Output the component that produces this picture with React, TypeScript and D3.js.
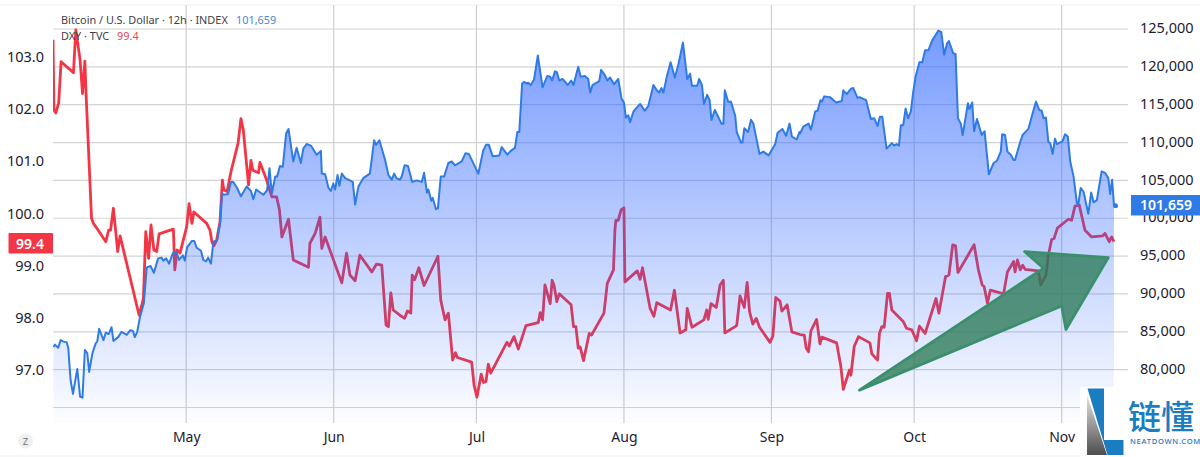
import React, { useEffect, useRef } from 'react';
import * as d3 from 'd3';

// days since 3 Apr, then the value at that moment
const btcDays = [0.1,0.4,1.1,1.6,2.2,2.9,3.2,3.7,4.2,5.1,5.7,6.2,6.7,7.2,7.6,8.3,9.0,9.3,9.7,10.6,11.1,11.7,12.3,12.7,13.7,14.4,15.5,16.2,16.8,17.2,17.7,18.3,19.1,19.7,20.5,21.2,22.1,22.8,23.2,23.8,24.4,25.2,26.0,26.5,27.3,27.7,28.2,29.2,29.7,30.2,31.1,31.6,32.2,32.6,33.2,33.7,34.5,35.1,35.5,35.9,36.8,37.4,37.9,38.7,39.5,40.7,41.6,42.1,42.7,44.2,45.0,45.5,46.0,46.7,47.1,47.7,48.3,49.0,49.5,50.5,51.2,52.1,52.6,53.3,54.2,55.4,56.3,56.5,57.2,57.9,58.4,58.9,59.3,59.8,60.2,60.7,61.4,63.0,63.5,64.2,65.2,66.6,67.5,67.9,68.6,69.8,70.5,71.2,71.7,72.2,72.9,73.3,73.9,74.6,75.5,76.4,77.5,78.0,78.6,78.9,79.5,79.8,80.5,80.9,81.5,82.2,83.1,83.8,84.5,85.9,86.7,87.4,89.4,90.4,91.0,91.6,92.4,93.8,94.3,95.5,96.2,97.1,97.6,98.0,98.6,99.0,99.6,99.9,100.4,101.1,101.9,102.9,103.9,104.5,104.9,105.5,105.9,106.4,107.1,108.2,108.9,109.4,110.4,110.9,111.8,112.5,112.9,113.4,114.8,115.2,116.0,116.5,117.1,117.9,118.8,119.5,120.0,120.4,120.9,121.3,122.0,123.4,124.4,125.1,126.2,126.9,127.4,127.9,128.3,129.0,129.8,130.7,131.4,132.4,133.3,133.9,134.3,135.4,135.8,136.4,136.8,137.5,138.0,138.4,139.1,140.5,140.9,141.2,141.9,142.5,143.4,143.7,144.6,144.9,145.3,146.1,146.7,147.2,148.5,149.3,150.4,151.8,152.3,153.3,154.1,154.8,155.3,156.3,156.9,157.0,157.7,158.8,159.3,160.2,160.7,161.3,161.6,162.1,163.3,164.6,165.8,166.1,166.8,167.7,168.2,169.1,169.5,170.9,171.9,172.6,173.3,173.8,174.3,175.2,176.3,176.8,177.3,177.8,178.2,178.7,179.2,179.7,180.3,180.8,181.3,182.1,182.7,183.3,184.0,184.8,186.1,186.7,187.3,187.9,188.3,189.2,189.7,190.2,190.8,191.2,192.3,192.6,193.2,193.6,194.2,195.2,195.8,196.7,197.7,198.4,199.2,199.5,200.1,200.6,201.3,201.9,202.2,203.3,203.8,205.0,205.7,206.6,207.3,207.8,208.2,208.7,209.2,209.6,210.1,210.6,211.0,212.2,212.7,213.3,213.8,214.5,215.2,215.5,216.0,216.6,217.6,218.2,218.7,219.4,220.4,221.1,221.8,222.2,222.6,223.0];
const btcPrices = [83000,83300,82900,83900,83700,83600,82900,78600,76800,80100,76400,76300,82600,82200,79700,82200,83500,83700,85400,83900,84900,84700,85600,83800,84300,85000,84600,85200,85100,84300,85000,87000,88800,93500,93700,92800,94700,94800,94400,94700,94000,95400,95400,94500,95100,94400,96200,97000,97000,96100,95700,94500,94300,94800,94000,96900,97100,99300,103300,103100,103200,104800,104800,104000,102900,104200,103600,102500,103800,103100,103700,106600,103300,105500,105500,106900,106800,111200,111800,107500,109300,107300,109200,109800,109600,108400,108900,105900,105800,104000,103600,104600,103800,105700,104300,105900,105300,104800,101800,104200,105300,105900,110300,109700,110300,107700,105700,105100,105900,105300,105100,105500,107000,106900,104800,105000,104800,106000,103400,103800,102300,102700,101200,101300,105500,105500,107300,107500,107000,107500,108600,108500,105900,108900,109700,109700,108200,108300,109400,108400,108900,109300,111400,111400,117800,118000,117800,117900,117600,118300,121500,117300,118800,118700,118200,119400,119300,118200,118400,117600,118200,117600,120000,118700,118800,118400,116600,117600,118100,119600,118900,118200,118600,117700,118400,115800,115300,113300,113600,112700,114100,115100,114200,114800,117600,116900,116600,117200,116600,118700,120600,118600,120200,123200,118400,119100,117500,117500,118400,117600,115100,116300,115600,113000,114300,112500,112500,116900,115400,115400,113500,111400,110000,110000,111900,111400,113000,112500,108500,108800,108300,109800,111300,111800,110900,112500,110800,110400,111400,111200,112100,112500,111700,114100,114200,115600,115400,116100,116000,115300,115500,116900,116400,117100,117200,115900,116000,115600,113100,113200,112200,113400,113400,109200,109900,109600,109800,109600,112300,112300,114500,113200,114100,116700,118700,120600,120600,122200,122200,123500,124800,124600,121600,123100,123400,121800,121700,113200,112500,111000,115200,114400,115300,111500,113100,111000,111500,105800,107300,107600,108800,111100,111000,108800,108400,107700,107700,110100,111000,111800,113400,115400,114300,114200,113200,113300,110100,109900,108500,110500,109800,110200,111100,110800,107500,105500,102000,101800,104000,103500,100600,103400,102100,102400,106200,106000,105300,103200,105100,101659];

const dxyDays = [0.0,0.2,0.6,1.2,1.7,4.3,4.8,5.7,6.2,6.7,6.9,8.1,8.5,9.5,11.1,11.7,12.1,12.7,13.6,14.1,18.1,19.0,19.5,20.1,20.6,21.2,21.8,22.3,25.3,25.6,26.1,26.7,28.1,28.6,29.2,29.6,32.3,33.0,33.4,33.8,34.4,35.1,35.6,35.9,36.6,37.4,38.9,39.5,40.0,41.1,41.6,42.0,43.2,43.5,44.9,46.0,47.0,47.6,48.1,49.5,50.5,53.7,54.0,55.1,56.1,56.5,57.2,60.7,61.7,62.4,63.5,64.5,67.0,68.0,69.1,70.0,70.5,71.0,71.5,72.9,73.9,74.5,75.2,75.5,76.0,76.9,78.0,80.9,81.5,82.4,83.1,84.0,84.6,85.0,88.0,88.5,89.1,90.0,90.5,91.0,91.5,92.0,95.4,95.9,96.9,97.8,99.4,102.0,102.4,102.9,103.4,104.5,104.9,105.3,105.9,106.4,108.9,109.4,109.9,110.4,110.8,111.5,112.2,112.7,113.2,115.8,116.5,117.8,118.1,118.3,118.8,119.4,120.0,120.2,122.8,123.4,123.9,125.5,126.3,126.9,129.8,130.6,131.8,133.0,133.3,134.3,136.8,137.4,137.7,138.3,139.4,140.2,140.9,141.2,143.7,144.4,145.3,145.9,146.4,147.1,147.8,148.5,150.7,151.3,151.9,152.8,153.2,154.3,155.3,157.0,157.9,158.3,158.8,159.3,160.5,161.2,161.6,164.7,165.6,166.1,167.4,167.7,168.4,169.3,171.7,172.1,173.3,173.7,174.2,174.7,175.4,175.8,176.3,178.7,179.4,180.5,181.5,182.1,183.3,185.6,186.2,187.6,188.3,189.1,189.7,190.2,193.6,194.5,195.3,195.7,196.4,197.0,199.8,200.6,201.9,202.2,202.7,203.3,203.8,204.3,207.1,207.6,208.7,209.2,209.9,210.4,211.1,213.4,214.1,214.8,215.7,216.9,218.3,220.6,221.1,222.0,222.5,223.0];
const dxyValues = [103.33,101.98,101.93,102.12,102.91,102.70,103.52,102.94,102.30,102.92,102.40,99.91,99.81,99.68,99.46,99.68,99.68,100.10,99.27,99.57,98.05,98.37,99.65,99.14,99.78,99.30,99.27,99.61,99.70,98.92,99.30,99.24,99.75,100.19,99.81,100.03,99.81,99.68,99.46,99.38,99.49,99.84,100.64,100.45,100.42,100.80,101.35,101.82,101.60,100.55,101.02,100.83,100.78,100.98,100.64,100.32,100.32,100.07,99.55,99.89,99.11,98.97,99.43,99.62,99.93,99.33,99.55,98.67,99.24,98.82,98.71,99.20,98.88,99.03,99.01,97.86,97.83,98.48,98.15,98.05,97.99,98.13,98.09,98.82,98.73,98.96,98.62,99.18,98.34,97.96,98.09,97.19,97.33,97.24,97.15,96.71,96.48,96.92,96.76,96.78,97.11,96.94,97.53,97.46,97.64,97.40,97.85,97.91,98.10,97.96,98.63,98.27,98.72,98.63,98.31,98.46,98.25,97.83,97.83,97.42,97.44,97.18,97.48,97.70,97.67,98.09,98.66,98.92,99.68,99.87,99.87,100.07,100.11,98.69,98.90,98.74,98.96,98.18,98.03,98.29,98.15,98.53,97.71,97.77,98.18,97.82,97.96,98.15,97.97,98.27,98.20,98.63,98.72,97.71,97.85,98.42,98.20,98.68,98.12,97.88,97.99,97.82,97.53,97.65,98.39,98.32,98.13,98.25,97.73,97.68,97.67,97.42,97.35,97.75,97.97,97.50,97.63,97.52,97.06,96.63,97.00,96.90,97.45,97.64,97.52,97.31,97.19,97.70,97.83,97.82,98.47,98.47,98.15,97.93,97.80,97.77,97.56,97.84,97.70,98.37,98.09,98.79,98.82,99.40,99.38,98.87,99.40,98.92,98.63,98.60,98.28,98.53,98.46,98.88,99.08,98.88,99.11,98.92,99.01,98.93,98.90,98.63,98.82,99.20,99.50,99.52,99.72,99.89,99.87,100.14,100.16,99.68,99.55,99.57,99.62,99.46,99.55,99.46];

// the hand drawn arrow, in the same days / price units as bitcoin
const arrowDays = [169.5,208.2,204.2,221.8,212.9,212.0];
const arrowPrices = [77300,93400,95600,94800,85300,88400];

const btcTicks = [75000,80000,85000,90000,95000,100000,105000,110000,115000,120000,125000];
const btcLabelTicks = btcTicks.slice(1); // 75,000 is covered by the logo in the picture
const dxyTicks = [97,98,99,100,101,102,103];
const startDate = new Date(2025,3,3);
const endDate = new Date(2025,10,12);
const monthTicks = d3.timeMonth.range(new Date(2025,4,1), new Date(2025,10,2));

const lastBtc = 101659;
const lastDxy = 99.4;

const axisFont = '"Noto Sans", sans-serif';

const dayToDate = (d: number) => new Date(startDate.getTime() + d * 864e5);

const App: React.FC = () => {
    const svgRef = useRef<SVGSVGElement | null>(null);

    useEffect(() => {
        const width = 1200;
        const height = 457;
        const svg = d3.select(svgRef.current);
        svg.selectAll('*').remove();

        const xScale = d3.scaleTime().domain([startDate, endDate]).range([53, 1114]);
        const yBtc = d3.scaleLinear().domain([75000, 125000]).range([407.5, 29]);
        const yDxy = d3.scaleLinear().domain([97, 103]).range([370, 57]);

        const defs = svg.append('defs');
        const grad = defs.append('linearGradient')
            .attr('id', 'btcFill')
            .attr('gradientUnits', 'userSpaceOnUse')
            .attr('x1', 0).attr('x2', 0).attr('y1', 30).attr('y2', 423);
        grad.append('stop').attr('offset', '0%').attr('stop-color', '#2962ff').attr('stop-opacity', 0.64);
        grad.append('stop').attr('offset', '100%').attr('stop-color', '#2962ff').attr('stop-opacity', 0.01);

        const logoGrad = defs.append('linearGradient')
            .attr('id', 'logoGrey')
            .attr('x1', 0).attr('x2', 0).attr('y1', 0).attr('y2', 1);
        logoGrad.append('stop').attr('offset', '0%').attr('stop-color', '#e4e4e4');
        logoGrad.append('stop').attr('offset', '100%').attr('stop-color', '#4d4d4d');

        defs.append('clipPath').attr('id', 'plotClip')
            .append('rect').attr('x', 53).attr('y', 5).attr('width', 1075).attr('height', 418);

        svg.append('rect').attr('width', width).attr('height', height).attr('fill', '#fff');
        svg.append('line').attr('x1', 0).attr('x2', width).attr('y1', 5).attr('y2', 5)
            .attr('stroke', '#f0f0f0').attr('stroke-width', 1);
        svg.append('line').attr('x1', 0).attr('x2', width).attr('y1', 456).attr('y2', 456)
            .attr('stroke', '#f0f0f0').attr('stroke-width', 1);

        // grid
        const grid = svg.append('g');
        btcTicks.forEach(t => {
            grid.append('line')
                .attr('x1', 53).attr('x2', 1128)
                .attr('y1', yBtc(t)).attr('y2', yBtc(t))
                .attr('stroke', '#d4d4d6').attr('stroke-width', 1.2);
        });
        monthTicks.forEach(t => {
            grid.append('line')
                .attr('x1', xScale(t)).attr('x2', xScale(t))
                .attr('y1', 5).attr('y2', 423)
                .attr('stroke', '#cfcfd2').attr('stroke-width', 1.2);
        });

        // the dollar index sits under the bitcoin area, that is why it turns purple
        const dxyLine = d3.line<number>()
            .x((_, i) => xScale(dayToDate(dxyDays[i])))
            .y(d => yDxy(d));
        svg.append('path')
            .attr('d', dxyLine(dxyValues))
            .attr('clip-path', 'url(#plotClip)')
            .attr('fill', 'none')
            .attr('stroke', '#f23645')
            .attr('stroke-width', 2.8)
            .attr('stroke-linejoin', 'round');

        const btcArea = d3.area<number>()
            .x((_, i) => xScale(dayToDate(btcDays[i])))
            .y0(423)
            .y1(d => yBtc(d));
        svg.append('path')
            .attr('d', btcArea(btcPrices))
            .attr('fill', 'url(#btcFill)');

        const btcLine = d3.line<number>()
            .x((_, i) => xScale(dayToDate(btcDays[i])))
            .y(d => yBtc(d));
        svg.append('path')
            .attr('d', btcLine(btcPrices))
            .attr('fill', 'none')
            .attr('stroke', '#2f7be6')
            .attr('stroke-width', 2)
            .attr('stroke-linejoin', 'round');

        svg.append('circle')
            .attr('cx', xScale(dayToDate(223)) + 1.5)
            .attr('cy', yBtc(lastBtc))
            .attr('r', 2.5)
            .attr('fill', '#2f7be6');

        // arrow
        const arrowPoints = arrowDays.map((d, i) => [xScale(dayToDate(d)), yBtc(arrowPrices[i])] as [number, number]);
        svg.append('path')
            .attr('d', d3.line().curve(d3.curveLinearClosed)(arrowPoints))
            .attr('fill', '#2b7a57')
            .attr('fill-opacity', 0.78)
            .attr('stroke', '#3c8f6b')
            .attr('stroke-width', 2.8)
            .attr('stroke-linejoin', 'round');

        // axes
        const styleAxis = (g: d3.Selection<SVGGElement, unknown, null, undefined>, size: number) => {
            g.select('.domain').remove();
            g.selectAll('text')
                .attr('fill', '#1c2030')
                .style('font-family', axisFont)
                .style('font-size', `${size}px`);
        };

        svg.append('g')
            .attr('transform', 'translate(1134,-1)')
            .call(d3.axisRight(yBtc).tickValues(btcLabelTicks).tickFormat(d3.format(',') as any).tickSize(0).tickPadding(6))
            .call(g => styleAxis(g as any, 14.5));

        svg.append('g')
            .attr('transform', 'translate(44,0)')
            .call(d3.axisLeft(yDxy).tickValues(dxyTicks).tickFormat(d3.format('.1f') as any).tickSize(0).tickPadding(0))
            .call(g => styleAxis(g as any, 14.5));

        svg.append('g')
            .attr('transform', 'translate(0,423)')
            .call(d3.axisBottom(xScale).tickValues(monthTicks).tickFormat(d3.timeFormat('%b') as any).tickSize(0).tickPadding(9))
            .call(g => styleAxis(g as any, 14));

        // price tags
        svg.append('rect').attr('x', 8.5).attr('y', 233).attr('width', 44.5).attr('height', 20.5).attr('rx', 1).attr('fill', '#f23645');
        svg.append('text').attr('x', 30).attr('y', 248.5).attr('text-anchor', 'middle')
            .attr('fill', '#fff').style('font-family', axisFont).style('font-size', '14px').style('font-weight', 600)
            .text(d3.format('.1f')(lastDxy));

        svg.append('rect').attr('x', 1131).attr('y', 195).attr('width', 69).attr('height', 20.5).attr('fill', '#2f7be6');
        svg.append('text').attr('x', 1140).attr('y', 210).attr('fill', '#fff')
            .style('font-family', axisFont).style('font-size', '14px').style('font-weight', 600)
            .text(d3.format(',')(lastBtc));

        // legend
        const legend1 = svg.append('text').attr('x', 61).attr('y', 23.5)
            .style('font-family', axisFont).style('font-size', '10.9px').attr('fill', '#3c4048');
        legend1.append('tspan').text('Bitcoin / U.S. Dollar · 12h · INDEX');
        legend1.append('tspan').attr('x', 236).attr('fill', '#4a86d8').text(d3.format(',')(lastBtc));

        const legend2 = svg.append('text').attr('x', 61).attr('y', 39.5)
            .style('font-family', axisFont).style('font-size', '10.9px').attr('fill', '#3c4048');
        legend2.append('tspan').text('DXY · TVC');
        legend2.append('tspan').attr('x', 117).attr('fill', '#e0475a').text(d3.format('.1f')(lastDxy));

        // z button
        svg.append('circle').attr('cx', 25.5).attr('cy', 441).attr('r', 7.5).attr('fill', '#f0f0f1');
        svg.append('text').attr('x', 25.5).attr('y', 444.5).attr('text-anchor', 'middle')
            .attr('fill', '#6a6d78').style('font-family', axisFont).style('font-size', '9.5px').text('Z');

        // watermark logo
        const logo = svg.append('g');
        logo.append('rect').attr('x', 1080).attr('y', 387).attr('width', 120).attr('height', 70).attr('fill', '#fff');
        logo.append('path').attr('d', 'M1087,395L1087,455L1107,455Z').attr('fill', 'url(#logoGrey)');
        logo.append('path').attr('d', 'M1087.5,388.5L1104,388.5L1104,440L1123.5,440L1123.5,455L1107.5,455Z').attr('fill', '#1a7cc1');
        logo.append('text').attr('x', 1128).attr('y', 429)
            .attr('fill', '#1a7cc1').style('font-family', '"Noto Sans CJK SC", sans-serif').style('font-size', '33px').style('font-weight', 500)
            .text('链懂');
        logo.append('text').attr('x', 1130).attr('y', 444)
            .attr('fill', '#1a7cc1').style('font-family', axisFont).style('font-size', '7.6px').style('font-weight', 500).style('letter-spacing', '0.7px')
            .text('NEATDOWN.COM');
    }, []);

    return (
        <svg ref={svgRef} width={1200} height={457} style={{ position: 'absolute', left: 0, top: 0, display: 'block' }} />
    );
};

export default App;
